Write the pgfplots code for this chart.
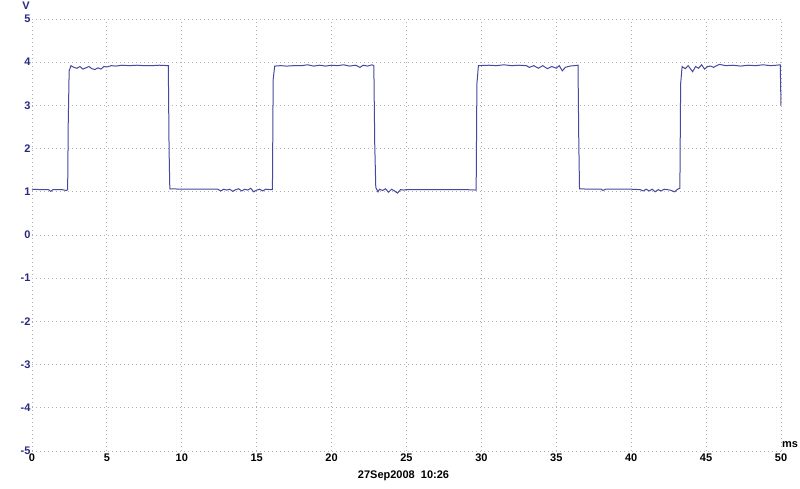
\documentclass[border=0pt]{standalone}
\usepackage{pgfplots}
\pgfplotsset{compat=1.18}
\usepackage{fontspec}
\setmainfont{Liberation Sans}
\definecolor{trace}{RGB}{72,72,160}
\definecolor{ylab}{RGB}{40,40,130}
\definecolor{gridc}{RGB}{175,175,175}
\begin{document}
\begin{tikzpicture}
\path[use as bounding box] (-32pt,-38pt) rectangle (768pt,451pt);
\begin{axis}[
  scale only axis,
  width=749pt, height=432pt,
  xmin=0, xmax=50, ymin=-5, ymax=5,
  xtick={0,5,...,50}, ytick={-5,-4,...,5},
  axis line style={draw=none},
  major tick length=0pt,
  grid=major,
  major grid style={gridc, line width=0.8pt, dash pattern=on 0.8pt off 3.2pt},
  /pgf/number format/assume math mode=true,
  tick label style={font=\fontsize{11}{12}\selectfont\bfseries},
  yticklabel style={ylab, xshift=2pt},
  xticklabel style={yshift=1pt},
  clip=false,
]
\addplot[trace, line width=1pt] coordinates {
 (0,1.06) (0.6,1.05) (1.1,1.05) (1.25,1.01) (1.4,1.05) (2.0,1.05) (2.3,1.03) (2.38,1.05)
 (2.42,2.6) (2.48,3.8) (2.6,3.92) (2.8,3.88) (3.0,3.86) (3.2,3.9) (3.4,3.84) (3.6,3.87)
 (3.8,3.9) (4.0,3.85) (4.2,3.83) (4.4,3.87) (4.6,3.84) (4.8,3.9) (5.0,3.89) (5.3,3.92)
 (5.6,3.91) (6.0,3.93) (6.5,3.92) (7.0,3.93) (7.5,3.92) (8.0,3.92) (8.5,3.93) (9.1,3.92)
 (9.15,2.0) (9.2,1.07) (10,1.06) (11,1.06) (12,1.06) (12.4,1.06) (12.6,1.02) (12.8,1.06)
 (13.0,1.04) (13.2,1.06) (13.4,1.01) (13.6,1.05) (13.8,1.07) (14.0,1.02) (14.2,1.06)
 (14.4,1.04) (14.6,1.08) (14.8,1.0) (15.0,1.04) (15.2,1.06) (15.4,1.02) (15.6,1.06)
 (15.9,1.05) (16.05,1.05)
 (16.1,3.6) (16.2,3.91) (16.6,3.92) (17.0,3.91) (17.5,3.92) (18.0,3.92) (18.4,3.94)
 (18.8,3.91) (19.2,3.93) (19.6,3.91) (20.0,3.93) (20.4,3.92) (20.8,3.94) (21.2,3.91)
 (21.6,3.93) (21.9,3.88) (22.1,3.93) (22.4,3.91) (22.7,3.94) (22.82,3.92)
 (22.88,2.1) (22.95,1.1) (23.1,1.0) (23.2,1.06) (23.4,1.03) (23.6,1.07) (23.8,0.99)
 (24.0,1.06) (24.2,1.02) (24.4,0.97) (24.6,1.05) (24.8,1.04) (25.0,1.05) (26,1.05)
 (27,1.05) (28,1.05) (29,1.05) (29.65,1.04)
 (29.7,3.5) (29.8,3.92) (30.5,3.93) (31.0,3.92) (31.5,3.94) (32.0,3.92) (32.5,3.93)
 (33.0,3.92) (33.2,3.88) (33.5,3.92) (33.8,3.86) (34.1,3.92) (34.4,3.85) (34.7,3.9)
 (35.0,3.86) (35.2,3.92) (35.4,3.80) (35.6,3.88) (35.9,3.91) (36.2,3.92) (36.45,3.93)
 (36.5,2.2) (36.55,1.07) (37.2,1.06) (38.0,1.06) (38.1,1.03) (38.3,1.06) (39.0,1.06)
 (40.0,1.06) (40.6,1.05) (40.8,1.02) (41.0,1.06) (41.2,1.02) (41.4,1.06) (41.6,1.0)
 (41.8,1.05) (42.0,1.02) (42.2,1.06) (42.6,1.04) (42.9,1.0) (43.1,1.06) (43.25,1.08)
 (43.3,3.5) (43.4,3.9) (43.6,3.85) (43.8,3.92) (44.1,3.78) (44.3,3.9) (44.5,3.86)
 (44.7,3.94) (44.9,3.84) (45.1,3.9) (45.3,3.91) (45.5,3.88) (45.7,3.92) (45.9,3.95)
 (46.3,3.92) (46.8,3.93) (47.3,3.91) (47.8,3.93) (48.3,3.92) (48.8,3.94) (49.3,3.92)
 (49.7,3.93) (49.95,3.94) (50,3.0)
};
\node[anchor=south east, ylab, font=\fontsize{11}{12}\selectfont\bfseries, inner sep=0pt]
  at ([xshift=-2pt, yshift=9pt]axis cs:0,5) {V};
\node[anchor=south west, font=\fontsize{11}{12}\selectfont\bfseries, inner sep=0pt]
  at ([xshift=1pt, yshift=3pt]axis cs:50,-5) {ms};
\node[anchor=north, font=\fontsize{11}{12}\selectfont\bfseries, inner sep=0pt]
  at ([yshift=-20pt]axis cs:24.8,-5) {27Sep2008\ \ 10:26};
\end{axis}
\end{tikzpicture}
\end{document}
